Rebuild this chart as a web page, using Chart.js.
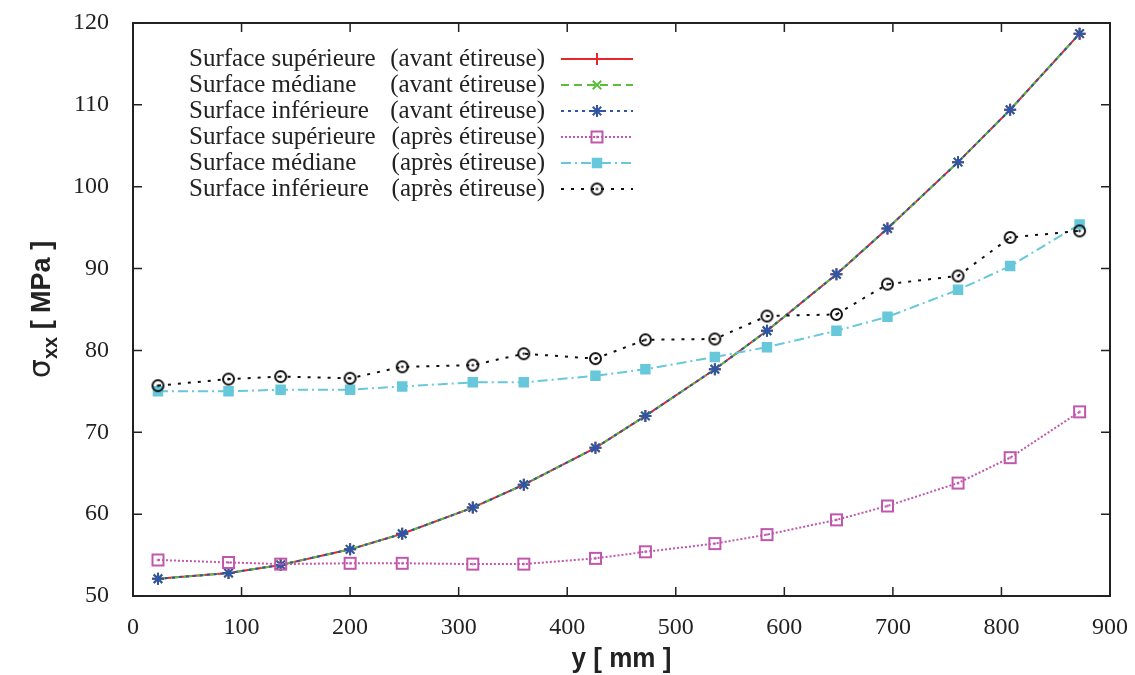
<!DOCTYPE html>
<html>
<head>
<meta charset="utf-8">
<script src="https://cdn.jsdelivr.net/npm/chart.js@4/dist/chart.umd.min.js"></script>
<style>
  html, body { margin: 0; padding: 0; background: #fff; }
  #wrap { width: 1135px; height: 675px; }
</style>
</head>
<body>
<div id="wrap"><canvas id="c" width="1135" height="675"></canvas></div>
<script>
// positions along the strip (mm)
const yPos = [23, 88, 136, 200, 248, 313, 360, 426, 472, 536, 584, 648, 695, 760, 808, 872]

// sigma_xx before the stretcher (the three surfaces overlap)
const supAvant = [52.1, 52.8, 53.8, 55.7, 57.6, 60.8, 63.6, 68.1, 72.0, 77.7, 82.4, 89.3, 94.9, 103.0, 109.4, 118.7]
const medAvant = [52.1, 52.8, 53.8, 55.7, 57.6, 60.8, 63.6, 68.1, 72.0, 77.7, 82.4, 89.3, 94.9, 103.0, 109.4, 118.7]
const infAvant = [52.1, 52.8, 53.8, 55.7, 57.6, 60.8, 63.6, 68.1, 72.0, 77.7, 82.4, 89.3, 94.9, 103.0, 109.4, 118.7]

// sigma_xx after the stretcher
const supApres = [54.4, 54.1, 53.9, 54.0, 54.0, 53.9, 53.9, 54.6, 55.4, 56.4, 57.5, 59.3, 61.0, 63.8, 66.9, 72.5]
const medApres = [75.0, 75.0, 75.2, 75.2, 75.6, 76.1, 76.1, 76.9, 77.7, 79.2, 80.4, 82.4, 84.1, 87.4, 90.3, 95.4]
const infApres = [75.7, 76.5, 76.8, 76.6, 78.0, 78.2, 79.6, 79.0, 81.3, 81.4, 84.2, 84.4, 88.1, 89.1, 93.8, 94.6]

const xTicks = [0, 100, 200, 300, 400, 500, 600, 700, 800, 900]
const yTicks = [50, 60, 70, 80, 90, 100, 110, 120]

const labelsLeft = ['Surface supérieure', 'Surface médiane', 'Surface inférieure', 'Surface supérieure', 'Surface médiane', 'Surface inférieure']
const labelsRight = ['(avant étireuse)', '(avant étireuse)', '(avant étireuse)', '(après étireuse)', '(après étireuse)', '(après étireuse)']

const RED = '#e8262b'
const GREEN = '#5cbd3c'
const BLUE = '#2f55a4'
const PINK = '#c057ad'
const CYAN = '#66c8da'
const BLACK = '#111111'

function markerCanvas(kind, color) {
  const cv = document.createElement('canvas')
  cv.width = 15
  cv.height = 15
  const g = cv.getContext('2d')
  g.strokeStyle = color
  g.fillStyle = color
  g.lineWidth = 2
  if (kind === 'circle') {
    g.beginPath()
    g.arc(7.5, 7.5, 5.5, 0, Math.PI * 2)
    g.stroke()
  } else {
    g.strokeRect(2, 2, 11, 11)
  }
  g.beginPath()
  g.arc(7.5, 7.5, 1.2, 0, Math.PI * 2)
  g.fill()
  return cv
}

const pts = (vals) => vals.map((v, i) => ({ x: yPos[i], y: v }))

const datasets = [
  { data: pts(supAvant), borderColor: RED, pointStyle: 'cross', borderDash: [], order: 6 },
  { data: pts(medAvant), borderColor: GREEN, pointStyle: 'crossRot', borderDash: [8, 5], order: 5 },
  { data: pts(infAvant), borderColor: BLUE, pointStyle: 'star', borderDash: [3, 4], order: 4 },
  { data: pts(supApres), borderColor: PINK, pointStyle: markerCanvas('rect', PINK), borderDash: [2, 2], order: 3 },
  { data: pts(medApres), borderColor: CYAN, pointStyle: 'rect', pointBackgroundColor: CYAN, borderDash: [10, 4, 2, 4], order: 2 },
  { data: pts(infApres), borderColor: BLACK, pointStyle: markerCanvas('circle', BLACK), borderDash: [3, 7], order: 1 },
].map((d, i) => ({
  label: labelsLeft[i] + ' ' + labelsRight[i],
  borderWidth: 2,
  pointRadius: 6,
  pointBorderWidth: 2,
  pointBorderColor: d.borderColor,
  pointBackgroundColor: d.pointBackgroundColor || 'rgba(0,0,0,0)',
  backgroundColor: d.borderColor,
  tension: 0,
  fill: false,
  ...d,
}))

const framePlugin = {
  id: 'frame',
  afterDraw(chart) {
    const { ctx, chartArea: a, scales } = chart
    ctx.save()
    ctx.strokeStyle = '#222'
    ctx.lineWidth = 2
    ctx.strokeRect(a.left, a.top, a.right - a.left, a.bottom - a.top)
    ctx.beginPath()
    xTicks.forEach((t) => {
      const x = scales.x.getPixelForValue(t)
      ctx.moveTo(x, a.bottom); ctx.lineTo(x, a.bottom - 9)
      ctx.moveTo(x, a.top); ctx.lineTo(x, a.top + 9)
    })
    yTicks.forEach((t) => {
      const y = scales.y.getPixelForValue(t)
      ctx.moveTo(a.left, y); ctx.lineTo(a.left + 9, y)
      ctx.moveTo(a.right, y); ctx.lineTo(a.right - 9, y)
    })
    ctx.lineWidth = 1.5
    ctx.stroke()

    // axis titles
    ctx.fillStyle = '#222'
    ctx.textBaseline = 'alphabetic'
    ctx.save()
    ctx.translate((a.left + a.right) / 2, 667)
    ctx.scale(0.93, 1)
    ctx.font = 'bold 28px "Liberation Sans"'
    ctx.textAlign = 'center'
    ctx.fillText('y [ mm ]', 0, 0)
    ctx.restore()

    ctx.save()
    ctx.translate(50, (a.top + a.bottom) / 2)
    ctx.rotate(-Math.PI / 2)
    const f1 = 'bold 27px "Liberation Sans"'
    const f2 = 'bold 20px "Liberation Sans"'
    const f3 = '30px "DejaVu Sans"'
    ctx.font = f3
    const wSig = ctx.measureText('σ').width
    ctx.font = f2
    const wSub = ctx.measureText('xx').width
    ctx.font = f1
    const wRest = ctx.measureText(' [ MPa ]').width
    let x = -(wSig + wSub + wRest) / 2
    ctx.textAlign = 'left'
    ctx.font = f3
    ctx.fillText('σ', x, 0)
    x += wSig
    ctx.font = f2
    ctx.fillText('xx', x, 7)
    x += wSub
    ctx.font = f1
    ctx.fillText(' [ MPa ]', x, 0)
    ctx.restore()

    // key
    const rowY = [59, 85, 111, 137, 163, 189]
    ctx.font = '25px "Liberation Serif"'
    ctx.textBaseline = 'middle'
    datasets.forEach((d, i) => {
      const y = rowY[i]
      ctx.fillStyle = '#222'
      ctx.textAlign = 'left'
      ctx.fillText(labelsLeft[i], 189, y)
      ctx.textAlign = 'right'
      ctx.fillText(labelsRight[i], 545, y)
      ctx.save()
      ctx.strokeStyle = d.borderColor
      ctx.lineWidth = 2
      ctx.setLineDash(d.borderDash)
      ctx.beginPath()
      ctx.moveTo(561, y)
      ctx.lineTo(633, y)
      ctx.stroke()
      ctx.setLineDash([])
      ctx.fillStyle = d.pointBackgroundColor
      ctx.strokeStyle = d.borderColor
      Chart.helpers.drawPoint(ctx, { pointStyle: d.pointStyle, radius: 6, borderWidth: 2, rotation: 0 }, 597, y)
      ctx.restore()
    })
    ctx.restore()
  },
}

new Chart(document.getElementById('c'), {
  type: 'line',
  data: { datasets },
  options: {
    responsive: false,
    animation: false,
    layout: { padding: { top: 23, right: 25, left: 0, bottom: 0 } },
    plugins: { legend: { display: false }, tooltip: { enabled: false } },
    scales: {
      x: {
        type: 'linear',
        min: 0,
        max: 900,
        grid: { display: false },
        border: { display: false },
        afterFit(s) { s.height = 79; s.paddingLeft = 0; s.paddingRight = 0 },
        afterBuildTicks(s) { s.ticks = xTicks.map((v) => ({ value: v })) },
        ticks: { color: '#222', padding: 9, font: { family: 'Liberation Serif', size: 24 } },
      },
      y: {
        min: 50,
        max: 120,
        grid: { display: false },
        border: { display: false },
        afterFit(s) { s.width = 133; s.paddingTop = 0; s.paddingBottom = 0 },
        afterBuildTicks(s) { s.ticks = yTicks.map((v) => ({ value: v })) },
        ticks: { color: '#222', padding: 16, font: { family: 'Liberation Serif', size: 24 } },
      },
    },
  },
  plugins: [framePlugin],
})
</script>
</body>
</html>
